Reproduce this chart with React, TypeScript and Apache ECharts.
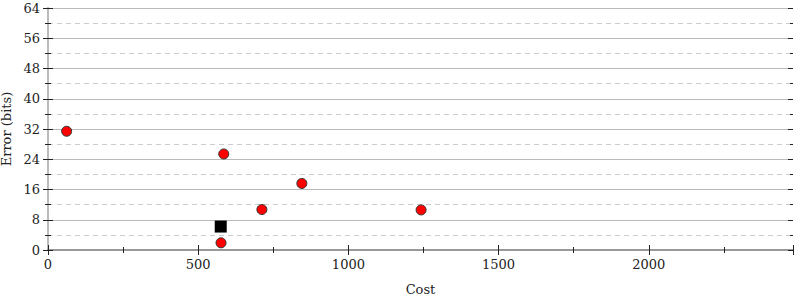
import React, { useEffect, useRef } from "react";
import * as echarts from "echarts";

const circleCost = [62, 585, 712, 845, 1242, 576];
const circleError = [31.4, 25.4, 10.7, 17.6, 10.6, 1.9];
const squareCost = [575];
const squareError = [6.2];
const xMax = 2480;
const yMax = 64;

const FONT = "DejaVu Serif";

export default function App() {
  const ref = useRef<HTMLDivElement>(null);
  useEffect(() => {
    if (!ref.current) return;
    const chart = echarts.init(ref.current, undefined, { renderer: "svg" });
    const labelStyle = { fontFamily: FONT, fontSize: 13, color: "#222" };
    const xBase = {
      type: "value" as const,
      min: 0,
      max: xMax,
      interval: 500,
      splitLine: { show: false },
    };
    const yBase = {
      type: "value" as const,
      min: 0,
      max: yMax,
      interval: 8,
    };
    const tick = (inside: boolean) => ({
      axisTick: { show: true, inside, length: 5, lineStyle: { color: "#222", width: 1 } },
      minorTick: { show: true, splitNumber: 2, length: 3, lineStyle: { color: "#222", width: 1 } },
    });
    const option = {
      animation: false,
      grid: { left: 48, right: 7, top: 8, bottom: 50, containLabel: false, outerBoundsMode: "none" },
      xAxis: [
        {
          ...xBase,
          position: "bottom",
          ...tick(false),
          axisLine: { show: true, lineStyle: { color: "#999", width: 2 } },
          axisLabel: { ...labelStyle, margin: 8, showMaxLabel: false, formatter: (v: number) => String(v) },
          name: "Cost",
          nameLocation: "middle",
          nameGap: 33,
          nameTextStyle: labelStyle,
        },
        {
          ...xBase,
          position: "bottom",
          ...tick(true),
          axisLine: { show: false },
          axisLabel: { show: false },
        },
        {
          ...xBase,
          position: "top",
          axisTick: { show: false },
          axisLine: { show: true, lineStyle: { color: "#999", width: 2 } },
          axisLabel: { show: false },
        },
      ],
      yAxis: [
        {
          ...yBase,
          position: "left",
          ...tick(false),
          axisLine: { show: true, lineStyle: { color: "#bbb", width: 2 } },
          axisLabel: { ...labelStyle, margin: 8, formatter: (v: number) => String(v) },
          splitLine: { show: true, lineStyle: { color: "#bbb", width: 1 } },
          minorSplitLine: { show: true, lineStyle: { color: "#ccc", width: 1, type: [5, 4] } },
          name: "Error (bits)",
          nameLocation: "middle",
          nameGap: 32,
          nameTextStyle: labelStyle,
        },
        {
          ...yBase,
          position: "left",
          ...tick(true),
          axisLine: { show: false },
          axisLabel: { show: false },
          splitLine: { show: false },
        },
        {
          ...yBase,
          position: "right",
          ...tick(false),
          axisLine: { show: true, lineStyle: { color: "#bbb", width: 2 } },
          axisLabel: { show: false },
          splitLine: { show: false },
        },
        {
          ...yBase,
          position: "right",
          ...tick(true),
          axisLine: { show: false },
          axisLabel: { show: false },
          splitLine: { show: false },
        },
      ],
      series: [
        {
          type: "scatter",
          xAxisIndex: 0,
          yAxisIndex: 0,
          symbol: "circle",
          symbolSize: 10,
          itemStyle: { color: "#f00", borderColor: "#333", borderWidth: 1, opacity: 1 },
          data: circleCost.map((c, i) => [c, circleError[i]]),
          z: 3,
        },
        {
          type: "scatter",
          xAxisIndex: 0,
          yAxisIndex: 0,
          symbol: "rect",
          symbolSize: 12,
          itemStyle: { color: "#000", opacity: 1 },
          data: squareCost.map((c, i) => [c, squareError[i]]),
          z: 4,
        },
      ],
    };
    chart.setOption(option);
    return () => chart.dispose();
  }, []);
  return (
    <div
      ref={ref}
      style={{ position: "absolute", left: 0, top: 0, width: 800, height: 300 }}
    />
  );
}
